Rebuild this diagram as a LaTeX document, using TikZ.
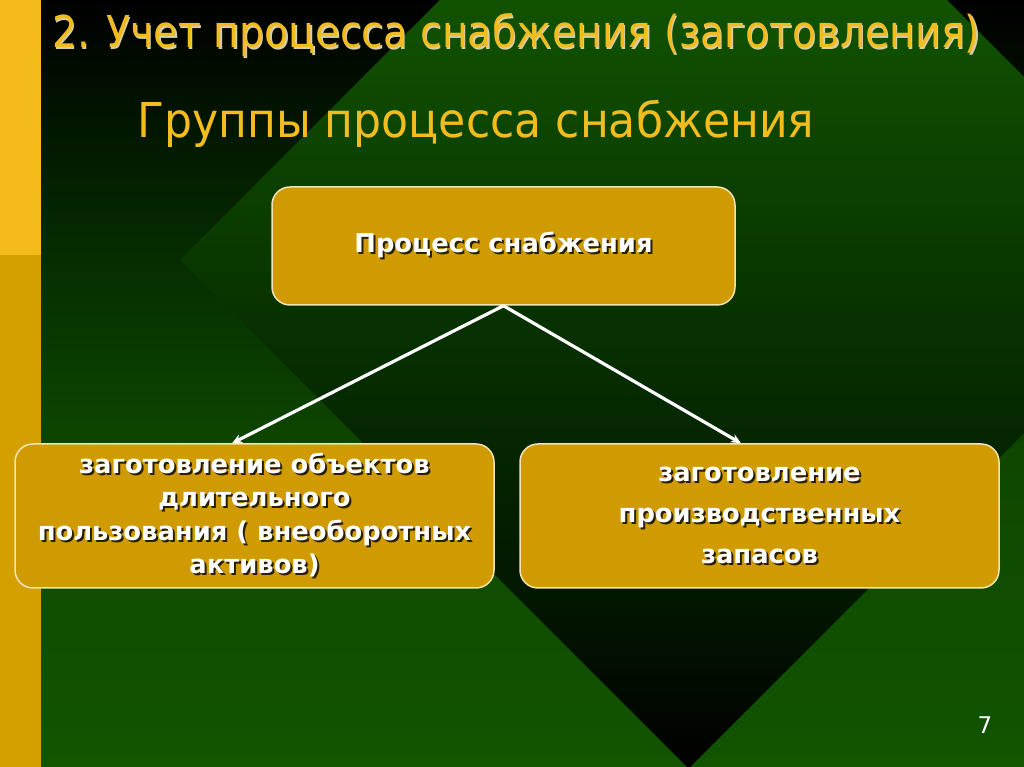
\documentclass[tikz,border=0pt]{standalone}
\usepackage{fontspec}
\setmainfont{DejaVu Sans}
\usetikzlibrary{arrows.meta,calc}
\definecolor{bgG}{RGB}{18,84,0}
\definecolor{bgM}{RGB}{14,72,0}
\definecolor{bgD}{RGB}{5,46,0}
\definecolor{inA}{RGB}{2,22,0}
\definecolor{inB}{RGB}{7,50,0}
\definecolor{inC}{RGB}{17,82,0}
\definecolor{stripeT}{RGB}{244,187,26}
\definecolor{stripeB}{RGB}{212,160,0}
\definecolor{boxfill}{RGB}{207,155,0}
\definecolor{boxline}{RGB}{243,227,181}
\definecolor{titleY}{RGB}{242,188,30}
\definecolor{titleSh}{RGB}{215,205,170}
\definecolor{textSh}{RGB}{40,30,0}
\pgfdeclareverticalshading{outsh}{100bp}{color(0bp)=(bgG); color(25bp)=(bgG); color(45bp)=(bgM); color(58bp)=(bgD); color(75bp)=(black); color(100bp)=(black)}
\pgfdeclareverticalshading{insh}{100bp}{color(0bp)=(black); color(25bp)=(black); color(33bp)=(inA); color(47bp)=(inB); color(62.6bp)=(inC); color(100bp)=(inC)}
\newcommand\shd[1]{\makebox[0pt][l]{\hspace{2pt}\raisebox{-2pt}{\textcolor{textSh}{#1}}}#1}
\newcommand\shl[1]{\makebox[0pt][l]{\hspace{1.4pt}\raisebox{-1.4pt}{\textcolor{titleSh}{#1}}}#1}
\tikzset{
  gbox/.style={draw=boxline, line width=1.5pt, fill=boxfill, rounded corners=18pt,
    inner sep=0pt, align=center, text=white},
  conn/.style={draw=white, line width=3.2pt, -{Stealth[length=10pt,width=9pt]}}
}
\begin{document}
\begin{tikzpicture}[x=1pt,y=1pt]
\useasboundingbox (0,0) rectangle (1024,767);
\clip (0,0) rectangle (1024,767);
% background
\shade[shading=outsh] (0,0) rectangle (1024,767);
\shade[shading=insh] (180,507) -- (693.5,1020.5) -- (1202,512) -- (688.5,-1.5) -- cycle;
% left stripe
\fill[stripeB] (0,0) rectangle (41,512);
\fill[stripeT] (0,512) rectangle (41,767);
% titles
\node[anchor=base west, inner sep=0pt, text=titleY] (title) at (52,719)
  {\resizebox{928pt}{\height}{\fontsize{44}{44}\selectfont\shl{2. Учет процесса снабжения (заготовления)}}};
\node[anchor=base west, inner sep=0pt, text=titleY] (subtitle) at (137,629)
  {\resizebox{677pt}{\height}{\fontsize{48}{48}\selectfont Группы процесса снабжения}};
% boxes
\node[gbox, minimum width=463pt, minimum height=118pt, font=\fontsize{25.8}{30}\bfseries] (top) at (503.5,521)
  {\shd{Процесс снабжения}};
\node[gbox, minimum width=479pt, minimum height=144pt, font=\fontsize{25.8}{33.5}\bfseries] (lbox) at (254.5,251)
  {\shd{заготовление объектов}\\ \shd{длительного}\\ \shd{пользования ( внеоборотных}\\ \shd{активов)}};
\node[gbox, minimum width=479pt, minimum height=144pt, font=\fontsize{25.8}{41}\bfseries] (rbox) at (759.5,251)
  {\shd{заготовление}\\ \shd{производственных}\\ \shd{запасов}};
% connectors
\draw[conn] (top.south) -- ([xshift=-22.5pt]lbox.north);
\draw[conn] (top.south) -- ([xshift=-18.5pt]rbox.north);
% page number
\node[anchor=base, inner sep=0pt, text=white, font=\fontsize{23}{23}\selectfont] (pnum) at (985,33) {7};
\end{tikzpicture}
\end{document}
